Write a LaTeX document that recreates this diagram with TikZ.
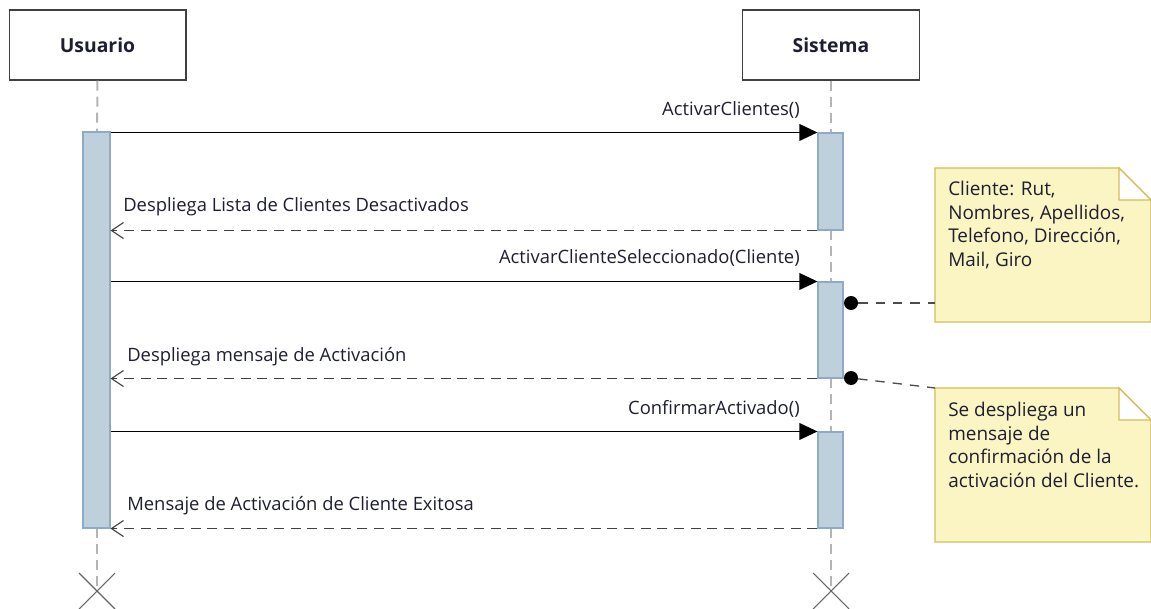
\documentclass[tikz,border=0pt]{standalone}
\usepackage{fontspec}
\setmainfont{Open Sans}
\usetikzlibrary{arrows.meta,calc}
\definecolor{barfill}{HTML}{BFD0DD}
\definecolor{bardraw}{HTML}{8FAAC4}
\definecolor{notefill}{HTML}{FBF5C4}
\definecolor{notedraw}{HTML}{D2BE58}
\definecolor{txt}{HTML}{1E1E32}
\definecolor{lifeline}{HTML}{B4B4B4}
\begin{document}
\begin{tikzpicture}[x=0.75pt,y=-0.75pt,
  actor/.style={draw=black!75,line width=1pt,fill=white,minimum width=132.5pt,minimum height=52.5pt,font=\bfseries\fontsize{14.5}{16}\selectfont,text=txt},
  bar/.style={draw=bardraw,fill=barfill,line width=0.8pt,inner sep=0pt},
  life/.style={draw=lifeline,line width=1.5pt,dash pattern=on 7.5pt off 4.5pt},
  call/.style={draw=black,line width=1.1pt,-{Triangle[length=13.5pt,width=12.5pt]}},
  reply/.style={draw=black!75,line width=1.1pt,dash pattern=on 7.5pt off 5pt,-{Straight Barb[length=9pt,width=12pt,line width=0.8pt]}},
  lbl/.style={font=\fontsize{13.8}{15}\selectfont,text=txt,inner sep=0pt},
  notetxt/.style={font=\fontsize{14.2}{17.6}\selectfont,text=txt,inner sep=0pt,align=left,anchor=north west},
  notelink/.style={draw=black!70,line width=1pt,dash pattern=on 7pt off 6pt},
  dot/.style={circle,fill=black,inner sep=0pt,minimum size=10.5pt},
  xmark/.style={draw=black!60,line width=0.8pt}]
\useasboundingbox (0,0) rectangle (1151,609);

% actors
\node[actor] (U) at (97.5,45) {Usuario};
\node[actor] (S) at (831,45) {Sistema};

% lifelines
\coordinate (ux) at (97,591);
\coordinate (sx) at (831,591);
\draw[life] (U.south) -- (97,132);
\draw[life] (97,528) -- (ux);
\draw[life] (S.south) -- (831,133);
\draw[life] (831,230) -- (831,282);
\draw[life] (831,378) -- (831,432);
\draw[life] (831,528) -- (sx);

% activation bars
\node[bar,minimum width=20.25pt,minimum height=297pt] (ub) at (96.5,330) {};
\node[bar,minimum width=18.75pt,minimum height=72.75pt] (s1) at (830.5,181.5) {};
\node[bar,minimum width=18.75pt,minimum height=72pt] (s2) at (830.5,330) {};
\node[bar,minimum width=18.75pt,minimum height=72pt] (s3) at (830.5,480) {};

% destruction marks
\draw[xmark] ($(ux)+(-18,-18)$) -- ($(ux)+(18,18)$) ($(ux)+(18,-18)$) -- ($(ux)+(-18,18)$);
\draw[xmark] ($(sx)+(-18,-18)$) -- ($(sx)+(18,18)$) ($(sx)+(18,-18)$) -- ($(sx)+(-18,18)$);

% messages
\draw[call] (ub.east |- s1.north) -- (s1.north west);
\node[lbl,anchor=base east] (m1) at (800,116) {ActivarClientes()};
\draw[reply] (s1.south west) -- (ub.east |- s1.south);
\node[lbl,anchor=base west] (m2) at (123,212) {Despliega Lista de Clientes Desactivados};
\draw[call] (ub.east |- s2.north) -- (s2.north west);
\node[lbl,anchor=base east] (m3) at (800,264) {ActivarClienteSeleccionado(Cliente)};
\draw[reply] (s2.south west) -- (ub.east |- s2.south);
\node[lbl,anchor=base west] (m4) at (127,361) {Despliega mensaje de Activación};
\draw[call] (ub.east |- s3.north) -- (s3.north west);
\node[lbl,anchor=base east] (m5) at (800,414) {ConfirmarActivado()};
\draw[reply] (s3.south west) -- (ub.east |- s3.south);
\node[lbl,anchor=base west] (m6) at (127,510) {Mensaje de Activación de Cliente Exitosa};

% notes
\draw[notedraw,fill=notefill,line width=1pt] (935,168) -- (1119,168) -- (1151,200) -- (1151,322) -- (935,322) -- cycle;
\draw[notedraw,fill=white,line width=1pt] (1119,168) -- (1119,200) -- (1151,200) -- cycle;
\node[notetxt] (t1) at (948,181) {Cliente: Rut,\\Nombres, Apellidos,\\Telefono, Dirección,\\Mail, Giro};
\coordinate (n1l) at (935,303);

\draw[notedraw,fill=notefill,line width=1pt] (935,388) -- (1119,388) -- (1151,420) -- (1151,542) -- (935,542) -- cycle;
\draw[notedraw,fill=white,line width=1pt] (1119,388) -- (1119,420) -- (1151,420) -- cycle;
\node[notetxt] (t2) at (948,402) {Se despliega un\\mensaje de\\confirmación de la\\activación del Cliente.};
\coordinate (n2l) at (935,388);

% note links
\node[dot] (d1) at (851,303) {};
\node[dot] (d2) at (851,378) {};
\draw[notelink] (d1) -- (n1l);
\draw[notelink] (d2) -- (n2l);
\end{tikzpicture}
\end{document}
